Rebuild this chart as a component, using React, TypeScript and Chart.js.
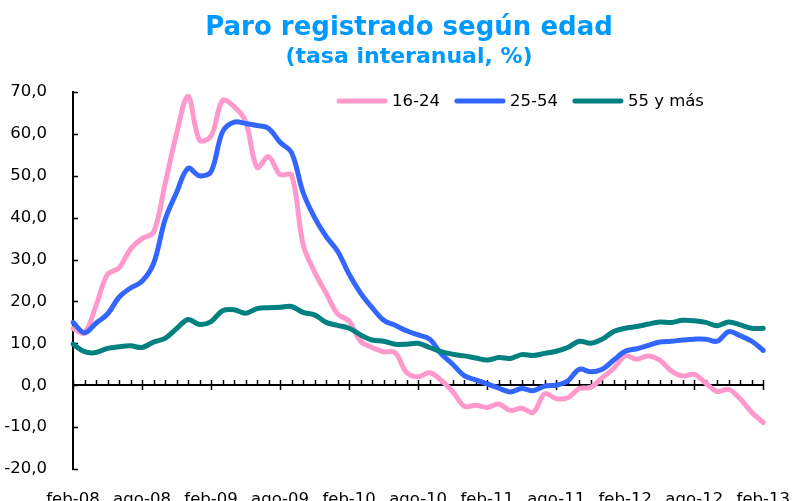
import React, { useEffect, useRef } from "react";
import { Chart, registerables } from "chart.js";

Chart.register(...registerables);

const TITLE = "Paro registrado según edad";
const SUBTITLE = "(tasa interanual, %)";

const categories = [
  "feb-08", "mar-08", "abr-08", "may-08", "jun-08", "jul-08", "ago-08", "sep-08", "oct-08", "nov-08", "dic-08", "ene-09",
  "feb-09", "mar-09", "abr-09", "may-09", "jun-09", "jul-09", "ago-09", "sep-09", "oct-09", "nov-09", "dic-09", "ene-10",
  "feb-10", "mar-10", "abr-10", "may-10", "jun-10", "jul-10", "ago-10", "sep-10", "oct-10", "nov-10", "dic-10", "ene-11",
  "feb-11", "mar-11", "abr-11", "may-11", "jun-11", "jul-11", "ago-11", "sep-11", "oct-11", "nov-11", "dic-11", "ene-12",
  "feb-12", "mar-12", "abr-12", "may-12", "jun-12", "jul-12", "ago-12", "sep-12", "oct-12", "nov-12", "dic-12", "ene-13",
  "feb-13",
];

const seriesNames = ["16-24", "25-54", "55 y más"];

const edad16_24 = [
  13.5, 12.5, 19, 26.5, 28, 32.5, 35, 36.5, 48, 60, 69, 58.5,
  59.5, 68, 66.5, 63, 52, 54.5, 50.3, 50.2, 33.6, 27, 22, 17,
  15.3, 10.5, 9, 8, 7.8, 3, 2, 3, 1.2, -1.5, -5, -4.8,
  -5.3, -4.5, -6, -5.5, -6.5, -2, -3.2, -3, -0.8, -0.5, 1.8, 4,
  7, 6.2, 7, 6, 3.4, 2.2, 2.6, 0.5, -1.5, -1, -3.3, -6.5,
  -8.9,
];

const edad25_54 = [
  15, 12.5, 14.8, 17, 21, 23.2, 24.8, 29, 39.5, 46, 51.8, 50,
  51, 60.5, 62.8, 62.5, 62, 61.3, 58, 55.5, 46, 40, 35.5, 32,
  26.5, 22, 18.5, 15.5, 14.3, 13, 12, 11, 7.5, 5, 2.3, 1.3,
  0.3, -0.7, -1.6, -0.8, -1.3, -0.2, 0, 1, 3.8, 3.2, 3.8, 6,
  8.1, 8.7, 9.5, 10.3, 10.5, 10.8, 11, 11, 10.5, 12.8, 11.8, 10.5,
  8.3,
];

const edad55mas = [
  9.8, 8, 7.8, 8.8, 9.2, 9.4, 9, 10.3, 11.2, 13.5, 15.7, 14.5,
  15.2, 17.8, 18, 17.2, 18.3, 18.5, 18.6, 18.8, 17.4, 16.8, 15, 14.3,
  13.6, 12, 10.8, 10.5, 9.8, 9.8, 10, 9, 8, 7.4, 7, 6.5,
  6, 6.6, 6.4, 7.3, 7.1, 7.6, 8.1, 9, 10.5, 10, 11, 12.8,
  13.6, 14, 14.6, 15.1, 15, 15.5, 15.4, 15, 14.2, 15.1, 14.4, 13.6,
  13.6,
];

const yMin = -20;
const yMax = 70;
const yStep = 10;
const labelEvery = 6;

const colors = ["#FF99CC", "#3366FF", "#008080"];
const FONT = "'DejaVu Sans', Verdana, sans-serif";

const decorPlugin = {
  id: "decor",
  beforeDatasetsDraw(chart: any) {
    const ctx = chart.ctx;
    const x = chart.scales.x;
    const y = chart.scales.y;
    const area = chart.chartArea;
    ctx.save();
    ctx.strokeStyle = "#000";
    // zero line
    const y0 = Math.round(y.getPixelForValue(0));
    ctx.lineWidth = 2;
    ctx.beginPath();
    ctx.moveTo(area.left, y0);
    ctx.lineTo(area.right, y0);
    ctx.stroke();
    // x ticks
    ctx.lineWidth = 1.5;
    for (let i = 0; i < categories.length; i++) {
      const px = Math.round(x.getPixelForValue(i)) + 0.5;
      const major = i % labelEvery === 0;
      ctx.beginPath();
      ctx.moveTo(px, y0 - 5);
      ctx.lineTo(px, major ? y0 + 5 : y0);
      ctx.stroke();
    }
    // y ticks (inward)
    for (let v = yMin; v <= yMax; v += yStep) {
      const py = Math.round(y.getPixelForValue(v)) + 0.5;
      ctx.beginPath();
      ctx.moveTo(area.left, py);
      ctx.lineTo(area.left + 5, py);
      ctx.stroke();
    }
    ctx.restore();
  },
  afterDraw(chart: any) {
    const ctx = chart.ctx;
    ctx.save();
    // titles
    ctx.fillStyle = "#0099FF";
    ctx.textAlign = "center";
    ctx.textBaseline = "alphabetic";
    ctx.font = `bold 26px ${FONT}`;
    ctx.fillText(TITLE, 409, 35);
    ctx.font = `bold 22px ${FONT}`;
    ctx.fillText(SUBTITLE, 409, 63);
    // legend
    ctx.font = `16.5px ${FONT}`;
    ctx.textAlign = "left";
    ctx.textBaseline = "middle";
    let lx = 337;
    const ly = 101;
    seriesNames.forEach((name, i) => {
      ctx.strokeStyle = colors[i];
      ctx.lineWidth = 5;
      ctx.lineCap = "round";
      ctx.beginPath();
      ctx.moveTo(lx + 2, ly);
      ctx.lineTo(lx + 48, ly);
      ctx.stroke();
      ctx.fillStyle = "#000";
      ctx.fillText(name, lx + 55, ly + 1);
      lx = lx + 55 + ctx.measureText(name).width + 15;
    });
    ctx.restore();
  },
};

export default function App() {
  const ref = useRef<HTMLCanvasElement | null>(null);
  useEffect(() => {
    if (!ref.current) return;
    const series = [edad16_24, edad25_54, edad55mas];
    const chart = new Chart(ref.current, {
      type: "line",
      data: {
        labels: categories,
        datasets: series.map((d, i) => ({
          label: seriesNames[i],
          data: d,
          borderColor: colors[i],
          backgroundColor: colors[i],
          borderWidth: 5,
          pointRadius: 0,
          tension: 0.35,
          borderCapStyle: "round",
          borderJoinStyle: "round",
          fill: false,
          order: 3 - i,
        })),
      },
      options: {
        responsive: false,
        animation: false,
        events: [],
        layout: { padding: { top: 92, right: 30, left: 0, bottom: 0 } },
        plugins: {
          legend: { display: false },
          title: { display: false },
          tooltip: { enabled: false },
        },
        scales: {
          x: {
            type: "category",
            offset: false,
            grid: { display: false },
            border: { display: false },
            ticks: {
              autoSkip: false,
              maxRotation: 0,
              minRotation: 0,
              padding: 13,
              color: "#000",
              font: { family: FONT, size: 16.5 },
              callback: (_v: any, idx: number) => (idx % labelEvery === 0 ? categories[idx] : ""),
            },
            afterFit: (s: any) => {
              s.height = 32;
            },
          },
          y: {
            min: yMin,
            max: yMax,
            grid: { display: false },
            border: { display: true, color: "#000", width: 2 },
            ticks: {
              stepSize: yStep,
              padding: 18,
              color: "#000",
              font: { family: FONT, size: 16.5 },
              callback: (v: any) => Number(v).toFixed(1).replace(".", ","),
            },
            afterFit: (s: any) => {
              s.width = 73;
            },
          },
        },
      },
      plugins: [decorPlugin],
    });
    return () => chart.destroy();
  }, []);
  return (
    <div style={{ position: "absolute", left: 0, top: 0, width: 803, height: 501, background: "#fff" }}>
      <canvas ref={ref} width={803} height={501} style={{ width: 803, height: 501, display: "block" }} />
    </div>
  );
}
